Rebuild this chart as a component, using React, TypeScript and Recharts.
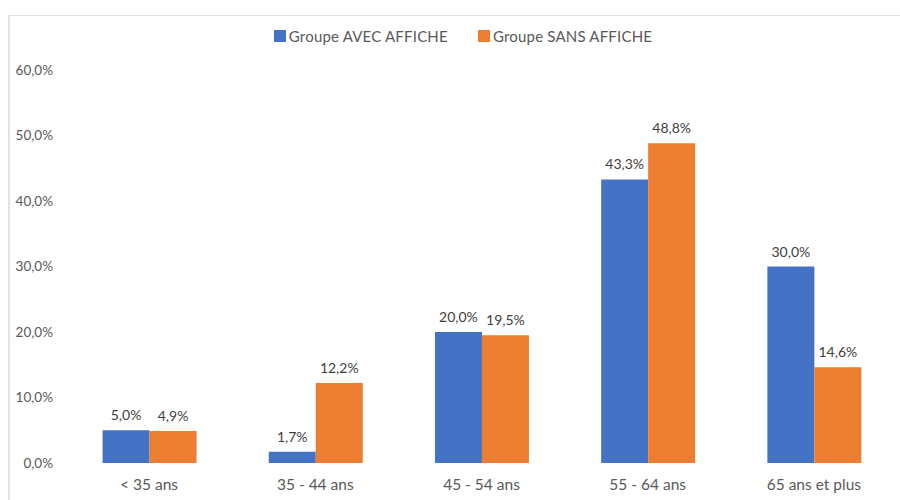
import React from "react";
import { BarChart, Bar, XAxis, YAxis, LabelList, Legend } from "recharts";

const categories = ["< 35 ans", "35 - 44 ans", "45 - 54 ans", "55 - 64 ans", "65 ans et plus"];
const avecAffiche = [5.0, 1.7, 20.0, 43.3, 30.0];
const sansAffiche = [4.9, 12.2, 19.5, 48.8, 14.6];
const yTicks = [0, 10, 20, 30, 40, 50, 60];
const seriesNames = ["Groupe AVEC AFFICHE", "Groupe SANS AFFICHE"];
const colors = ["#4472C4", "#ED7D31"];

const data = categories.map((c, i) => ({ cat: c, avec: avecAffiche[i], sans: sansAffiche[i] }));

const fmt = (v: number) => v.toFixed(1).replace(".", ",") + "%";
const FONT = "Lato, 'Open Sans', sans-serif";

const LegendContent = () => (
  <div style={{ display: "flex", justifyContent: "center", fontFamily: FONT, fontSize: 15, color: "#595959" }}>
    {seriesNames.map((n, i) => (
      <div key={n} style={{ display: "flex", alignItems: "center", marginRight: i === 0 ? 30 : 0 }}>
        <span style={{ display: "inline-block", width: 12, height: 12, background: colors[i], marginRight: 3 }} />
        <span style={{ letterSpacing: 0.2 }}>{n}</span>
      </div>
    ))}
  </div>
);

export default function App() {
  return (
    <div style={{ position: "absolute", left: 0, top: 0, width: 900, height: 500, background: "#fff", overflow: "hidden" }}>
      <div
        style={{
          position: "absolute",
          left: 8,
          top: 15,
          width: 900,
          height: 500,
          borderTop: "1px solid #dedede",
          borderLeft: "2px solid #e2e2e2",
        }}
      />
      <div style={{ position: "absolute", left: 0, top: 0 }}>
        <BarChart
          width={900}
          height={500}
          data={data}
          margin={{ top: 52, right: 3, bottom: 7, left: 0 }}
          barGap={0}
          barCategoryGap="22%"
        >
          <XAxis
            dataKey="cat"
            axisLine={false}
            tickLine={false}
            height={30}
            tickMargin={10}
            tick={{ fill: "#595959", fontSize: 15.5, fontFamily: FONT }}
            interval={0}
          />
          <YAxis
            width={66}
            domain={[0, 60]}
            ticks={yTicks}
            axisLine={false}
            tickLine={false}
            tickMargin={7}
            tickFormatter={fmt}
            tick={{ fill: "#595959", fontSize: 13.5, fontFamily: FONT }}
          />
          <Legend
            verticalAlign="top"
            align="center"
            content={<LegendContent />}
            wrapperStyle={{ top: 27, left: 0, width: 926 }}
          />
          <Bar dataKey="avec" name={seriesNames[0]} fill={colors[0]} isAnimationActive={false}>
            <LabelList dataKey="avec" position="top" offset={10} formatter={(v: any) => fmt(Number(v))} style={{ fill: "#404040", fontSize: 14, fontFamily: FONT }} />
          </Bar>
          <Bar dataKey="sans" name={seriesNames[1]} fill={colors[1]} isAnimationActive={false}>
            <LabelList dataKey="sans" position="top" offset={10} formatter={(v: any) => fmt(Number(v))} style={{ fill: "#404040", fontSize: 14, fontFamily: FONT }} />
          </Bar>
        </BarChart>
      </div>
    </div>
  );
}
